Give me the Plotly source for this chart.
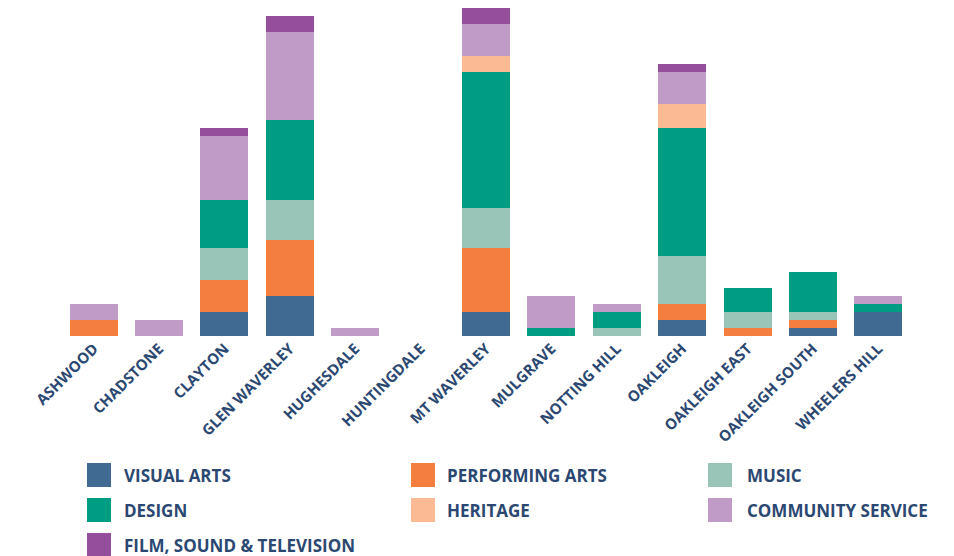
import plotly.graph_objects as go

suburbs = ["ASHWOOD", "CHADSTONE", "CLAYTON", "GLEN WAVERLEY", "HUGHESDALE",
           "HUNTINGDALE", "MT WAVERLEY", "MULGRAVE", "NOTTING HILL", "OAKLEIGH",
           "OAKLEIGH EAST", "OAKLEIGH SOUTH", "WHEELERS HILL"]

visual_arts = [0, 0, 3, 5, 0, 0, 3, 0, 0, 2, 0, 1, 3]
performing_arts = [2, 0, 4, 7, 0, 0, 8, 0, 0, 2, 1, 1, 0]
music = [0, 0, 4, 5, 0, 0, 5, 0, 1, 6, 2, 1, 0]
design = [0, 0, 6, 10, 0, 0, 17, 1, 2, 16, 3, 5, 1]
heritage = [0, 0, 0, 0, 0, 0, 2, 0, 0, 3, 0, 0, 0]
community_service = [2, 2, 8, 11, 1, 0, 4, 4, 1, 4, 0, 0, 1]
film_sound_tv = [0, 0, 1, 2, 0, 0, 2, 0, 0, 1, 0, 0, 0]

series_names = ["VISUAL ARTS", "PERFORMING ARTS", "MUSIC", "DESIGN",
                "HERITAGE", "COMMUNITY SERVICE", "FILM, SOUND & TELEVISION"]
series_values = [visual_arts, performing_arts, music, design,
                 heritage, community_service, film_sound_tv]
series_colors = ["#406A92", "#F47E40", "#99C4B8", "#009D83",
                 "#FBB994", "#C19BC8", "#954E9C"]

TEXT = "#2B4872"
FONT = "Open Sans"

fig = go.Figure()
for name, vals, col in zip(series_names, series_values, series_colors):
    fig.add_trace(go.Bar(x=suburbs, y=vals, name=name, marker_color=col,
                         marker_line_width=0, showlegend=False))

W, H = 954, 556
L, R, T, B = 61, 43, 0, 220
pw, ph = W - L - R, H - T - B

def px2x(px):
    return (px - L) / pw

def py2y(py):
    return (H - B - py) / ph

# manual legend (3 columns, row-major)
col_sq = [87, 411, 708]
col_tx = [122, 445, 745]
row_cy = [475, 510, 545]
shapes = []
annotations = []
for i, (name, col) in enumerate(zip(series_names, series_colors)):
    r, c = divmod(i, 3)
    cy = row_cy[r]
    shapes.append(dict(type="rect", xref="paper", yref="paper",
                       x0=px2x(col_sq[c]), x1=px2x(col_sq[c] + 24),
                       y0=py2y(cy + 12), y1=py2y(cy - 12),
                       fillcolor=col, line_width=0))
    annotations.append(dict(xref="paper", yref="paper", x=px2x(col_tx[c]),
                            y=py2y(cy), text=name, showarrow=False,
                            xanchor="left", yanchor="middle",
                            font=dict(family=FONT, size=17, color=TEXT, weight="bold")))

fig.update_layout(
    barmode="stack",
    bargap=0.265,
    width=W, height=H,
    margin=dict(l=L, r=R, t=T, b=B, autoexpand=False),
    paper_bgcolor="white", plot_bgcolor="white",
    xaxis=dict(tickangle=-45, showline=False, showgrid=False, ticks="",
               tickfont=dict(family=FONT, size=15, color=TEXT, weight="bold")),
    yaxis=dict(range=[0, 42], showticklabels=False, showgrid=False,
               zeroline=False, showline=False),
    shapes=shapes,
    annotations=annotations,
)

fig.write_html("out.html",
               config={"displayModeBar": False},
               post_script="document.body.style.margin='0';document.body.style.overflow='hidden';")
